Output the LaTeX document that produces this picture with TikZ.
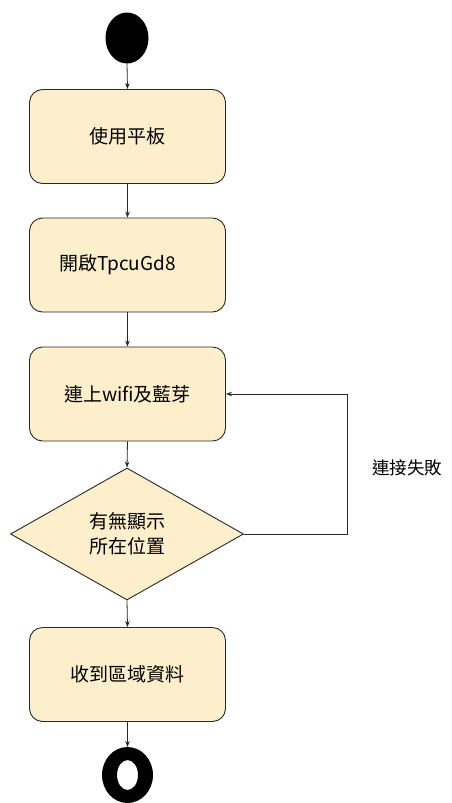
\documentclass[tikz,border=0pt]{standalone}
\usepackage{fontspec}
\setmainfont{Noto Sans CJK TC}
\usetikzlibrary{shapes.geometric,arrows.meta,positioning}
\definecolor{boxfill}{RGB}{253,239,204}
\definecolor{linec}{RGB}{40,40,40}
\tikzset{
  actbox/.style={draw=linec, fill=boxfill, rounded corners=13pt, line width=0.9pt,
    minimum width=196pt, minimum height=94pt, inner sep=0pt, font=\fontsize{19}{23}\selectfont},
  decbox/.style={draw=linec, fill=boxfill, diamond, line width=0.9pt, inner sep=0pt,
    minimum width=233pt, minimum height=132pt, align=center, font=\fontsize{19}{25}\selectfont},
  flow/.style={draw=linec, line width=0.8pt, -{Stealth[length=6pt,width=4.5pt]}},
}
\begin{document}
\begin{tikzpicture}[x=1pt,y=-1pt]
\useasboundingbox (0,0) rectangle (452,803);
% start
\fill[black] (127,38) ellipse [x radius=21.5, y radius=25.5];
\coordinate (s) at (127,63.5);
% boxes
\node[actbox] (b1) at (127.5,136.5) {使用平板};
\node[actbox] (b2) at (127.5,265) {\hspace*{-20pt}開啟TpcuGd8};
\node[actbox] (b3) at (127.5,394) {連上wifi及藍芽};
\node[decbox] (d) at (127,534) {有無顯示\\所在位置};
\node[actbox] (b4) at (127.5,674.5) {收到區域資料};
% end
\fill[black, even odd rule] (127.5,775) ellipse [x radius=25.5, y radius=28]
  (127.5,775) ellipse [x radius=10.5, y radius=15];
\coordinate (e) at (127.5,747);
% connectors
\draw[flow] (s) -- (b1.north);
\draw[flow] (b1.south) -- (b2.north);
\draw[flow] (b2.south) -- (b3.north);
\draw[flow] (b3.south) -- (d.north);
\draw[flow] (d.south) -- (b4.north);
\draw[flow] (b4.south) -- (e);
\coordinate (c1) at (347,534);
\coordinate (c2) at (347,394);
\draw[flow] (d.east) -- (c1) -- (c2) -- (b3.east);
\node[font=\fontsize{17.5}{21}\selectfont] (lbl) at (407,468) {連接失敗};
\end{tikzpicture}
\end{document}
